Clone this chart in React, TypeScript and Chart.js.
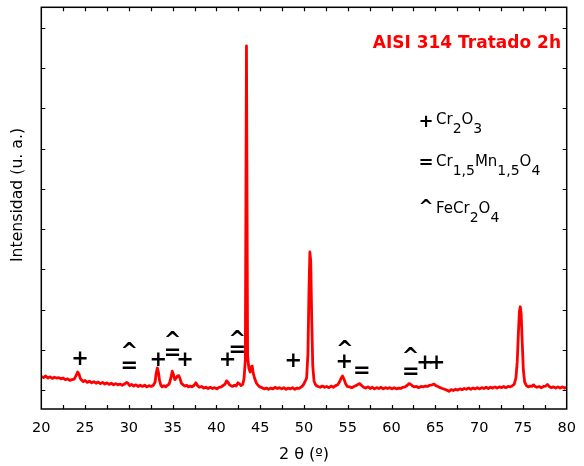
import { useEffect, useRef } from 'react';
import { Chart, registerables } from 'chart.js';

Chart.register(...registerables);

// Diffractogram (2θ in degrees, intensity in arbitrary units)
const scan20to33: [number, number][] = [
  [20.0, 34], [20.25, 31], [20.5, 35], [20.75, 30], [21.0, 33], [21.25, 29], [21.5, 32], [21.75, 30],
  [22.0, 31], [22.25, 28], [22.5, 30], [22.75, 26], [23.0, 28], [23.25, 24], [23.5, 26], [23.75, 27],
  [24.0, 37], [24.15, 45], [24.3, 40], [24.45, 29], [24.6, 25], [24.8, 21], [25.0, 24], [25.25, 19],
  [25.5, 22], [25.75, 18], [26.0, 21], [26.25, 17], [26.5, 20], [26.75, 16], [27.0, 19], [27.25, 15],
  [27.5, 18], [27.75, 14], [28.0, 17], [28.25, 13], [28.5, 16], [28.75, 13], [29.0, 15], [29.25, 12],
  [29.5, 15], [29.75, 19], [29.9, 17], [30.1, 11], [30.3, 14], [30.55, 10], [30.8, 13], [31.05, 9],
  [31.3, 12], [31.55, 9], [31.8, 12], [32.05, 8], [32.3, 11], [32.55, 9], [32.8, 12],
];
const scan33to46: [number, number][] = [
  [33.0, 20], [33.12, 42], [33.25, 55], [33.38, 44], [33.5, 24], [33.65, 12], [33.8, 8], [34.0, 11],
  [34.2, 8], [34.4, 12], [34.6, 15], [34.8, 30], [34.95, 47], [35.1, 38], [35.25, 26], [35.4, 30],
  [35.55, 35], [35.7, 36], [35.85, 28], [36.0, 17], [36.2, 13], [36.4, 10], [36.6, 12], [36.8, 8],
  [37.0, 10], [37.2, 8], [37.45, 12], [37.65, 18], [37.85, 11], [38.05, 7], [38.3, 9], [38.55, 5],
  [38.8, 7], [39.05, 4], [39.3, 7], [39.55, 4], [39.8, 6], [40.05, 3], [40.3, 7], [40.55, 8],
  [40.8, 12], [41.0, 15], [41.15, 23], [41.3, 20], [41.45, 14], [41.65, 11], [41.85, 9], [42.05, 12],
  [42.25, 10], [42.45, 18], [42.6, 16], [42.8, 11], [43.0, 14], [43.15, 28], [43.3, 75],
  [43.43, 855], [43.56, 85], [43.7, 55], [43.85, 45], [43.98, 58], [44.08, 60], [44.2, 42],
  [44.35, 30], [44.55, 18], [44.75, 12], [44.95, 8], [45.2, 6], [45.45, 3], [45.7, 5], [45.95, 2],
];
const scan46to60: [number, number][] = [
  [46.2, 5], [46.45, 3], [46.7, 7], [46.95, 4], [47.2, 6], [47.45, 3], [47.7, 6], [47.95, 2],
  [48.2, 5], [48.45, 3], [48.7, 6], [48.95, 2], [49.2, 5], [49.45, 4], [49.7, 8], [49.9, 12],
  [50.1, 20], [50.3, 30], [50.45, 90], [50.57, 250], [50.67, 343], [50.77, 320], [50.88, 180], [51.0, 60],
  [51.15, 22], [51.35, 12], [51.6, 9], [51.85, 7], [52.1, 10], [52.35, 7], [52.6, 9], [52.85, 6],
  [53.1, 10], [53.35, 7], [53.6, 11], [53.85, 13], [54.05, 20], [54.25, 30], [54.4, 35], [54.55, 28],
  [54.75, 16], [54.95, 9], [55.2, 8], [55.45, 6], [55.7, 9], [55.95, 11], [56.15, 14], [56.35, 16],
  [56.55, 12], [56.8, 7], [57.05, 5], [57.3, 8], [57.55, 4], [57.8, 7], [58.05, 3], [58.3, 6],
  [58.55, 4], [58.8, 7], [59.05, 3], [59.3, 6], [59.55, 4], [59.8, 6],
];
const scan60to80: [number, number][] = [
  [60.05, 3], [60.3, 6], [60.55, 3], [60.8, 5], [61.05, 4], [61.3, 7], [61.55, 8], [61.8, 12],
  [62.0, 16], [62.2, 14], [62.4, 10], [62.6, 8], [62.85, 9], [63.1, 6], [63.35, 9], [63.6, 8],
  [63.85, 10], [64.1, 9], [64.35, 12], [64.6, 13], [64.85, 15], [65.05, 11], [65.3, 9], [65.55, 6],
  [65.8, 4], [66.05, 2], [66.3, 0], [66.55, -3], [66.8, 1], [67.05, -1], [67.3, 2], [67.55, 0],
  [67.8, 3], [68.05, 1], [68.3, 4], [68.55, 2], [68.8, 5], [69.05, 2], [69.3, 5], [69.55, 3],
  [69.8, 6], [70.05, 3], [70.3, 6], [70.55, 4], [70.8, 7], [71.05, 4], [71.3, 7], [71.55, 5],
  [71.8, 8], [72.05, 5], [72.3, 8], [72.55, 6], [72.8, 9], [73.05, 6], [73.3, 9], [73.55, 8],
  [73.8, 11], [74.0, 14], [74.2, 30], [74.35, 70], [74.48, 140], [74.6, 195], [74.7, 207], [74.8, 190],
  [74.92, 120], [75.05, 50], [75.2, 20], [75.4, 11], [75.6, 8], [75.8, 10], [76.0, 9], [76.2, 13],
  [76.4, 9], [76.6, 7], [76.85, 9], [77.1, 6], [77.35, 9], [77.6, 10], [77.8, 14], [78.0, 9],
  [78.25, 6], [78.5, 8], [78.75, 5], [79.0, 8], [79.25, 5], [79.5, 8], [79.75, 5], [80.0, 7],
];

const xTickValues = [20, 25, 30, 35, 40, 45, 50, 55, 60, 65, 70, 75, 80];
const xTickLabels = ['20', '25', '30', '35', '40', '45', '50', '55', '60', '65', '70', '75', '80'];
const xMinorTickValues = [22.5, 27.5, 32.5, 37.5, 42.5, 47.5, 52.5, 57.5, 62.5, 67.5, 72.5, 77.5];
const yTickValues = [0, 100, 200, 300, 400, 500, 600, 700, 800, 900];

const xTitle = '2 θ (º)';
const yTitle = 'Intensidad (u. a.)';
const sampleTitle = 'AISI 314 Tratado 2h';

// Phase markers: 2θ, symbol, level (intensity units)
const markerTheta = [24.42, 30.05, 30.05, 33.36, 35.0, 35.0, 36.41, 41.28, 42.38, 42.38, 48.78, 54.65, 54.6, 56.59, 62.18, 62.2, 63.82, 65.15];
const markerSymbol = ['+', '^', '=', '+', '^', '=', '+', '+', '^', '=', '+', '^', '+', '=', '^', '=', '+', '+'];
const markerLevel = [80, 112, 62, 77, 139, 94, 77, 77, 142, 102, 75, 117, 72, 50, 99, 47, 70, 70];

// Legend: symbol + formula pieces (text, isSubscript)
const legendSymbols = ['+', '=', '^'];
const legendFormulas: [string, boolean][][] = [
  [['Cr', false], ['2', true], ['O', false], ['3', true]],
  [['Cr', false], ['1,5', true], ['Mn', false], ['1,5', true], ['O', false], ['4', true]],
  [['FeCr', false], ['2', true], ['O', false], ['4', true]],
];

const FONT = '"DejaVu Sans", Verdana, sans-serif';

const decorPlugin = {
  id: 'decor',
  afterDatasetsDraw(chart: any) {
    const { ctx, chartArea: a, scales } = chart;
    const x = scales.x;
    const y = scales.y;
    ctx.save();
    // frame
    ctx.strokeStyle = '#000';
    ctx.lineWidth = 1.5;
    ctx.strokeRect(a.left, a.top, a.right - a.left, a.bottom - a.top);
    // inward ticks
    ctx.lineWidth = 1.2;
    ctx.beginPath();
    const tl = 4;
    [...xTickValues, ...xMinorTickValues].forEach((t) => {
      if (t <= 20 || t >= 80) return;
      const px = Math.round(x.getPixelForValue(t)) + 0.5;
      ctx.moveTo(px, a.bottom);
      ctx.lineTo(px, a.bottom - tl);
      ctx.moveTo(px, a.top);
      ctx.lineTo(px, a.top + tl);
    });
    yTickValues.forEach((v) => {
      const py = Math.round(y.getPixelForValue(v)) + 0.5;
      ctx.moveTo(a.left, py);
      ctx.lineTo(a.left + tl, py);
      ctx.moveTo(a.right, py);
      ctx.lineTo(a.right - tl, py);
    });
    ctx.stroke();

    ctx.fillStyle = '#000';
    // x tick labels
    ctx.font = `14.5px ${FONT}`;
    ctx.textAlign = 'center';
    ctx.textBaseline = 'alphabetic';
    xTickValues.forEach((t, i) => {
      ctx.fillText(xTickLabels[i], x.getPixelForValue(t), a.bottom + 23);
    });
    // x title
    ctx.font = `16px ${FONT}`;
    ctx.fillText(xTitle, (a.left + a.right) / 2, a.bottom + 50);
    // y title
    ctx.save();
    ctx.translate(21.5, 195);
    ctx.rotate(-Math.PI / 2);
    ctx.font = `15.7px ${FONT}`;
    ctx.textAlign = 'center';
    ctx.fillText(yTitle, 0, 0);
    ctx.restore();

    // sample title
    ctx.fillStyle = '#ff0000';
    ctx.font = `bold 17px ${FONT}`;
    ctx.textAlign = 'right';
    ctx.fillText(sampleTitle, 561, 48);

    const drawCentered = (s: string, cx: number, cy: number) => {
      const m = ctx.measureText(s);
      const base = cy + (m.actualBoundingBoxAscent - m.actualBoundingBoxDescent) / 2;
      ctx.fillText(s, cx, base);
    };

    // phase markers
    ctx.fillStyle = '#000';
    ctx.textAlign = 'center';
    ctx.font = `bold 21px ${FONT}`;
    markerTheta.forEach((t, i) => {
      drawCentered(markerSymbol[i], x.getPixelForValue(t), y.getPixelForValue(markerLevel[i]));
    });

    // legend
    const legendBase = [124, 166, 213];
    const legendSymY = [120.5, 161.5, 201];
    legendSymbols.forEach((s, i) => {
      ctx.font = `bold 18px ${FONT}`;
      ctx.textAlign = 'center';
      drawCentered(s, 426, legendSymY[i]);
      ctx.textAlign = 'left';
      let cx = 436;
      legendFormulas[i].forEach(([txt, sub]) => {
        ctx.font = sub ? `14px ${FONT}` : `15px ${FONT}`;
        ctx.fillText(txt, cx, legendBase[i] + (sub ? 8.5 : 0));
        cx += ctx.measureText(txt).width;
      });
    });
    ctx.restore();
  },
};

export default function App() {
  const ref = useRef<HTMLCanvasElement | null>(null);
  useEffect(() => {
    document.body.style.margin = '0';
    const points = [...scan20to33, ...scan33to46, ...scan46to60, ...scan60to80].map(([t, v]) => ({ x: t, y: v }));
    const chart = new Chart(ref.current as HTMLCanvasElement, {
      type: 'line',
      data: {
        datasets: [
          {
            data: points,
            borderColor: '#ff0000',
            borderWidth: 2.8,
            borderJoinStyle: 'round',
            borderCapStyle: 'round',
            pointRadius: 0,
            tension: 0,
            fill: false,
          },
        ],
      },
      options: {
        animation: false,
        responsive: false,
        devicePixelRatio: 1,
        layout: { padding: { left: 0, right: 17.3, top: 7.3, bottom: 0 } },
        plugins: { legend: { display: false }, tooltip: { enabled: false } },
        scales: {
          x: {
            type: 'linear',
            min: 20,
            max: 80,
            ticks: { display: false },
            grid: { display: false, drawTicks: false },
            border: { display: false },
            afterFit: (s: any) => { s.height = 57; },
          },
          y: {
            type: 'linear',
            min: -47,
            max: 951,
            ticks: { display: false },
            grid: { display: false, drawTicks: false },
            border: { display: false },
            afterFit: (s: any) => { s.width = 41.3; },
          },
        },
      },
      plugins: [decorPlugin],
    });
    return () => chart.destroy();
  }, []);
  return <canvas ref={ref} width={584} height={466} style={{ display: 'block' }} />;
}
